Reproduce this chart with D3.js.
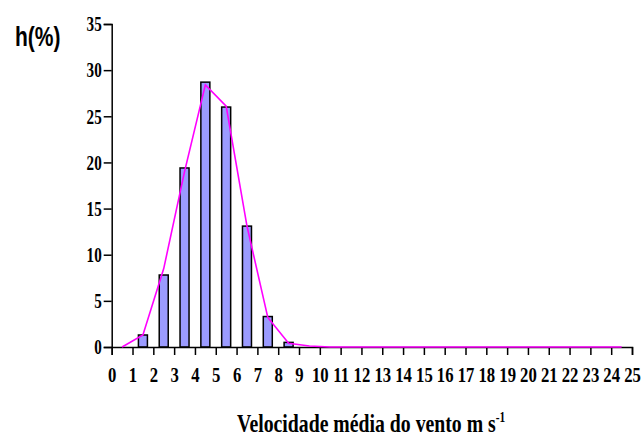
<!DOCTYPE html>
<html>
<head>
<meta charset="utf-8">
<title>h(%) - Velocidade média do vento</title>
<style>
body { margin: 0; background: #fff; }
svg { display: block; }
.bar { fill: #9b9bff; stroke: #000; stroke-width: 1.5; }
.fit { fill: none; stroke: #ff00ff; stroke-width: 1.6; }
.axis path, .axis line { stroke: #000; stroke-width: 1.5; }
</style>
</head>
<body>
<script src="https://d3js.org/d3.v7.min.js"></script>
<script>

// Data
var bins = [1.5, 2.5, 3.5, 4.5, 5.5, 6.5, 7.5, 8.5];
var freq = [1.3, 7.8, 19.4, 28.7, 26.0, 13.1, 3.3, 0.5];

var fitX = [0.5, 1.5, 2.5, 3.5, 4.5, 5.5, 6.5, 7.5, 8.5, 9.5, 10.5, 11.5, 12.5,
            13.5, 14.5, 15.5, 16.5, 17.5, 18.5, 19.5, 20.5, 21.5, 22.5, 23.5, 24.5];
var fitY = [0, 1.3, 8.5, 19.0, 28.4, 26.1, 13.1, 3.2, 0.4, 0.1, 0, 0, 0,
            0, 0, 0, 0, 0, 0, 0, 0, 0, 0, 0, 0];

var xTicks = d3.range(0, 26);
var yTicks = [0, 5, 10, 15, 20, 25, 30, 35];

var W = 643, H = 439;

var x = d3.scaleLinear().domain([0, 25]).range([111.7, 632]);
var y = d3.scaleLinear().domain([0, 35]).range([347, 24]);

var svg = d3.select("body").append("svg")
    .attr("width", W)
    .attr("height", H);

// bars
var barW = 9;
svg.selectAll(".bar")
    .data(bins)
  .enter().append("rect")
    .attr("class", "bar")
    .attr("x", function(d) { return x(d) - barW / 2; })
    .attr("width", barW)
    .attr("y", function(d, i) { return y(freq[i]); })
    .attr("height", function(d, i) { return y(0) - y(freq[i]); });

// y axis
var yAxis = svg.append("g")
    .attr("class", "axis")
    .attr("transform", "translate(" + x(0) + ",0)")
    .call(d3.axisLeft(y).tickValues(yTicks).tickSizeOuter(0).tickSize(8).tickPadding(2));
yAxis.selectAll("text")
    .attr("font-family", "'Liberation Serif', 'Times New Roman', serif")
    .attr("font-weight", "bold")
    .attr("font-size", 21)
    .attr("fill", "#000")
    .attr("x", -10 / 0.72)
    .attr("transform", "scale(0.72,1)");

// x axis
var xAxis = svg.append("g")
    .attr("class", "axis")
    .attr("transform", "translate(0," + y(0) + ")")
    .call(d3.axisBottom(x).tickValues(xTicks).tickSizeOuter(0).tickSize(8).tickPadding(11));
xAxis.selectAll(".tick text")
    .attr("font-family", "'Liberation Serif', 'Times New Roman', serif")
    .attr("font-weight", "bold")
    .attr("font-size", 22)
    .attr("fill", "#000")
    .attr("transform", "scale(0.76,1)");

// fitted line
var line = d3.line()
    .x(function(d) { return x(d); })
    .y(function(d, i) { return y(fitY[i]); });
svg.append("path")
    .attr("class", "fit")
    .attr("d", line(fitX));

// y label
svg.append("text")
    .attr("transform", "translate(15,46) scale(0.75,1)")
    .attr("font-family", "'Liberation Sans', Arial, sans-serif")
    .attr("font-weight", "bold")
    .attr("font-size", 28)
    .text("h(%)");

// x title
var title = svg.append("text")
    .attr("transform", "translate(237,432) scale(0.76,1)")
    .attr("font-family", "'Liberation Serif', 'Times New Roman', serif")
    .attr("font-weight", "bold")
    .attr("font-size", 26);
title.append("tspan").text("Velocidade média do vento m s");
title.append("tspan").attr("dy", -10).attr("font-size", 15).text("-1");

</script>
</body>
</html>
